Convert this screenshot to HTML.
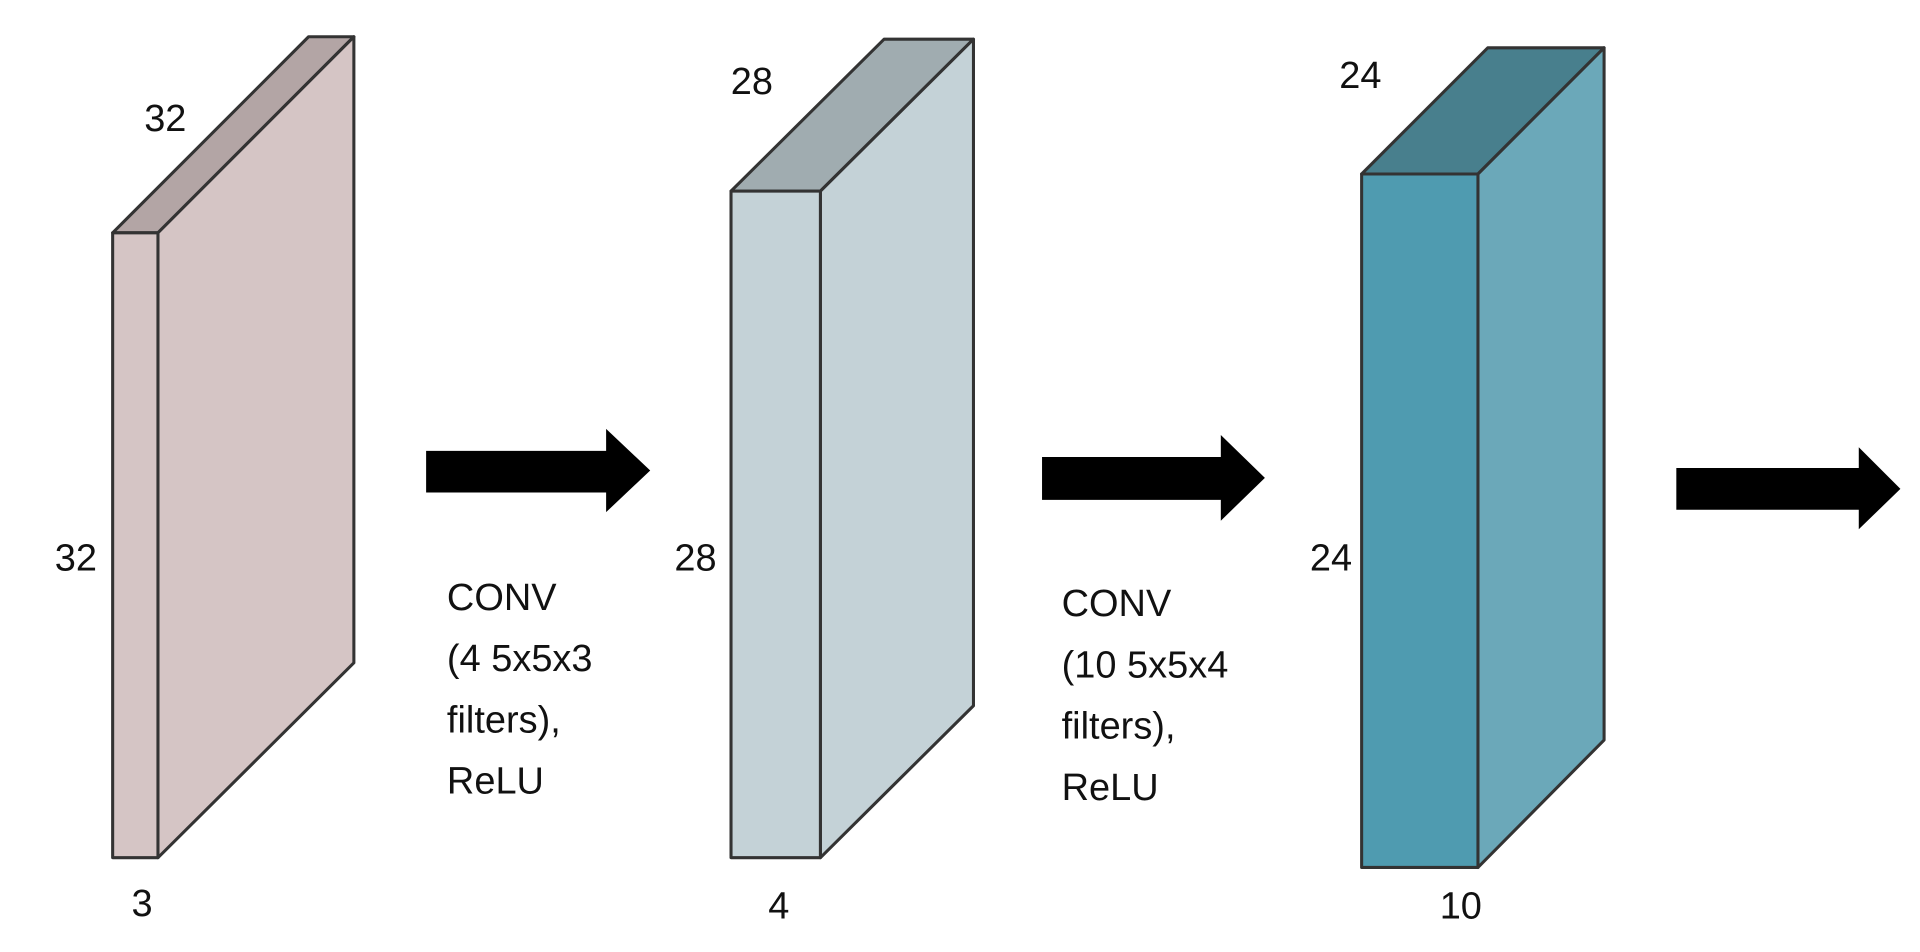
<!DOCTYPE html>
<html><head><meta charset="utf-8"><style>html,body{margin:0;padding:0;background:#fff;overflow:hidden}svg{display:block}</style></head>
<body>
<svg width="1920" height="952" viewBox="0 0 1568 777" preserveAspectRatio="none" xmlns="http://www.w3.org/2000/svg">
<g stroke="#333" stroke-width="2.5" stroke-linejoin="round">
<polygon points="92,190 129,190 289,30 252,30" fill="#b3a5a5"/>
<polygon points="129,190 289,30 289,541 129,700" fill="#d5c5c5"/>
<rect x="92" y="190" width="37" height="510" fill="#d5c5c5"/>

<polygon points="597,156 670,156 795,32 722,32" fill="#a0acb0"/>
<polygon points="670,156 795,32 795,576 670,700" fill="#c4d2d7"/>
<rect x="597" y="156" width="73" height="544" fill="#c4d2d7"/>

<polygon points="1112,142 1207,142 1310,39 1215,39" fill="#487f8d"/>
<polygon points="1207,142 1310,39 1310,604 1207,708" fill="#6ba8b9"/>
<rect x="1112" y="142" width="95" height="566" fill="#4f9bb0"/>
</g>
<g fill="#000">
<polygon points="348,368 495,368 495,350 531,384 495,418 495,402 348,402"/>
<polygon points="851,373 997,373 997,355 1033,390 997,425 997,408 851,408"/>
<polygon points="1369,382 1518,382 1518,365 1552,399 1518,432 1518,416 1369,416"/>
</g>
<g font-family="Liberation Sans, sans-serif" font-size="31" fill="#111" text-anchor="middle" dominant-baseline="central">
<text x="135" y="97">32</text><text x="62" y="456">32</text><text x="116" y="738">3</text>
<text x="614" y="67">28</text><text x="568" y="456">28</text><text x="636" y="740">4</text>
<text x="1111" y="62">24</text><text x="1087" y="456">24</text><text x="1193" y="740">10</text>
</g>
<g font-family="Liberation Sans, sans-serif" font-size="31" fill="#111" dominant-baseline="central">
<text x="365" y="488">CONV</text><text x="365" y="538">(4 5x5x3</text><text x="365" y="588">filters),</text><text x="365" y="638">ReLU</text>
<text x="867" y="493">CONV</text><text x="867" y="543">(10 5x5x4</text><text x="867" y="593">filters),</text><text x="867" y="643">ReLU</text>
</g>
</svg>
</body></html>
